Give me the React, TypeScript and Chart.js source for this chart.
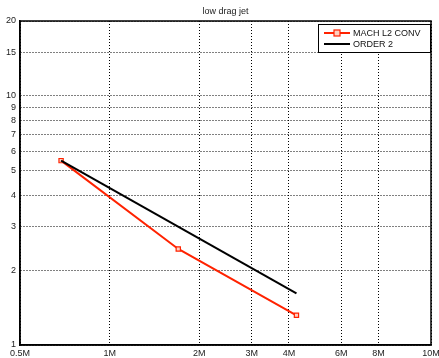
import React, { useEffect, useRef } from "react";
import { Chart, registerables } from "chart.js";

Chart.register(...registerables);

const TITLE = "low drag jet";
const machX = [0.687, 1.7, 4.24];
const machY = [5.5, 2.43, 1.316];
const orderX = [0.687, 4.24];
const orderY = [5.5, 1.612];
const xTickValues = [0.5, 1, 2, 3, 4, 6, 8, 12];
const xTickLabels = ["0.5M", "1M", "2M", "3M", "4M", "6M", "8M", "10M"];
const yTickValues = [1, 2, 3, 4, 5, 6, 7, 8, 9, 10, 15, 20];
const yTickLabels = ["1", "2", "3", "4", "5", "6", "7", "8", "9", "10", "15", "20"];
const seriesNames = ["MACH L2 CONV", "ORDER 2"];

const RED = "#ff2200";
const FONT = "'Liberation Sans', Arial, Helvetica, sans-serif";

const overlay = {
  id: "overlay",
  afterDraw(chart: any) {
    const ctx = chart.ctx;
    const a = chart.chartArea;
    ctx.save();
    // box
    ctx.strokeStyle = "#000";
    ctx.lineWidth = 1.5;
    ctx.strokeRect(a.left, a.top, a.right - a.left, a.bottom - a.top);
    // title
    ctx.fillStyle = "#222";
    ctx.font = `9px ${FONT}`;
    ctx.textAlign = "center";
    ctx.textBaseline = "middle";
    ctx.fillText(TITLE, (a.left + a.right) / 2, 12);
    // legend
    const lx = 318, ly = 24, lw = 112, lh = 28;
    ctx.fillStyle = "#fff";
    ctx.fillRect(lx, ly, lw, lh);
    ctx.strokeStyle = "#000";
    ctx.lineWidth = 1;
    ctx.strokeRect(lx + 0.5, ly + 0.5, lw, lh);
    const rows = [ly + 9, ly + 20];
    chart.data.datasets.forEach((ds: any, i: number) => {
      const y = rows[i];
      ctx.strokeStyle = ds.borderColor;
      ctx.lineWidth = 2;
      ctx.beginPath();
      ctx.moveTo(324, y);
      ctx.lineTo(350, y);
      ctx.stroke();
      if (ds.pointRadius > 0) {
        ctx.fillStyle = "#ffd0c0";
        ctx.fillRect(334, y - 3, 6, 6);
        ctx.strokeStyle = ds.borderColor;
        ctx.lineWidth = 1.2;
        ctx.strokeRect(334, y - 3, 6, 6);
      }
      ctx.fillStyle = "#111";
      ctx.font = `9px ${FONT}`;
      ctx.textAlign = "left";
      ctx.textBaseline = "middle";
      ctx.fillText(ds.label, 353, y + 0.5);
    });
    ctx.restore();
  },
};

export default function App() {
  const ref = useRef<HTMLCanvasElement | null>(null);
  useEffect(() => {
    document.body.style.margin = "0";
    const canvas = ref.current!;
    const chart = new Chart(canvas, {
      type: "scatter",
      data: {
        datasets: [
          {
            label: seriesNames[0],
            data: machX.map((x, i) => ({ x, y: machY[i] })),
            showLine: true,
            borderColor: RED,
            backgroundColor: "#ffd0c0",
            borderWidth: 2,
            pointStyle: "rect",
            pointRadius: 3,
            pointBorderWidth: 1.2,
            order: 1,
          },
          {
            label: seriesNames[1],
            data: orderX.map((x, i) => ({ x, y: orderY[i] })),
            showLine: true,
            borderColor: "#000",
            backgroundColor: "#000",
            borderWidth: 2,
            pointRadius: 0,
            order: 0,
          },
        ],
      },
      options: {
        responsive: false,
        animation: false,
        layout: { padding: { left: 0, top: 21, right: 8, bottom: 0 } },
        plugins: {
          legend: { display: false },
          title: { display: false },
          tooltip: { enabled: false },
        },
        scales: {
          x: {
            type: "logarithmic",
            min: xTickValues[0],
            max: xTickValues[xTickValues.length - 1],
            afterBuildTicks: (s: any) => {
              s.ticks = xTickValues.map((v) => ({ value: v }));
            },
            afterFit: (s: any) => {
              s.height = 13;
              s.paddingLeft = 0;
              s.paddingRight = 0;
            },
            ticks: {
              autoSkip: false,
              maxRotation: 0,
              padding: 3,
              color: "#222",
              font: { family: FONT, size: 9 },
              callback: (v: any) => {
                const i = xTickValues.indexOf(Number(v));
                return i >= 0 ? xTickLabels[i] : "";
              },
            },
            grid: {
              color: "#000",
              lineWidth: 1,
              drawTicks: false,
            },
            border: { display: true, color: "#000", width: 1.5, dash: [1, 2] },
          },
          y: {
            type: "logarithmic",
            min: yTickValues[0],
            max: yTickValues[yTickValues.length - 1],
            afterBuildTicks: (s: any) => {
              s.ticks = yTickValues.map((v) => ({ value: v }));
            },
            afterFit: (s: any) => {
              s.width = 20;
              s.paddingTop = 0;
              s.paddingBottom = 0;
            },
            ticks: {
              autoSkip: false,
              padding: 4,
              color: "#222",
              font: { family: FONT, size: 9 },
              callback: (v: any) => {
                const i = yTickValues.indexOf(Number(v));
                return i >= 0 ? yTickLabels[i] : "";
              },
            },
            grid: {
              color: "#000",
              lineWidth: 1,
              drawTicks: false,
            },
            border: { display: true, color: "#000", width: 1.5, dash: [1, 2] },
          },
        },
      },
      plugins: [overlay],
    } as any);
    return () => chart.destroy();
  }, []);
  return (
    <div style={{ position: "absolute", left: 0, top: 0, width: 439, height: 358, background: "#fff" }}>
      <canvas ref={ref} width={439} height={358} style={{ display: "block" }} />
    </div>
  );
}
